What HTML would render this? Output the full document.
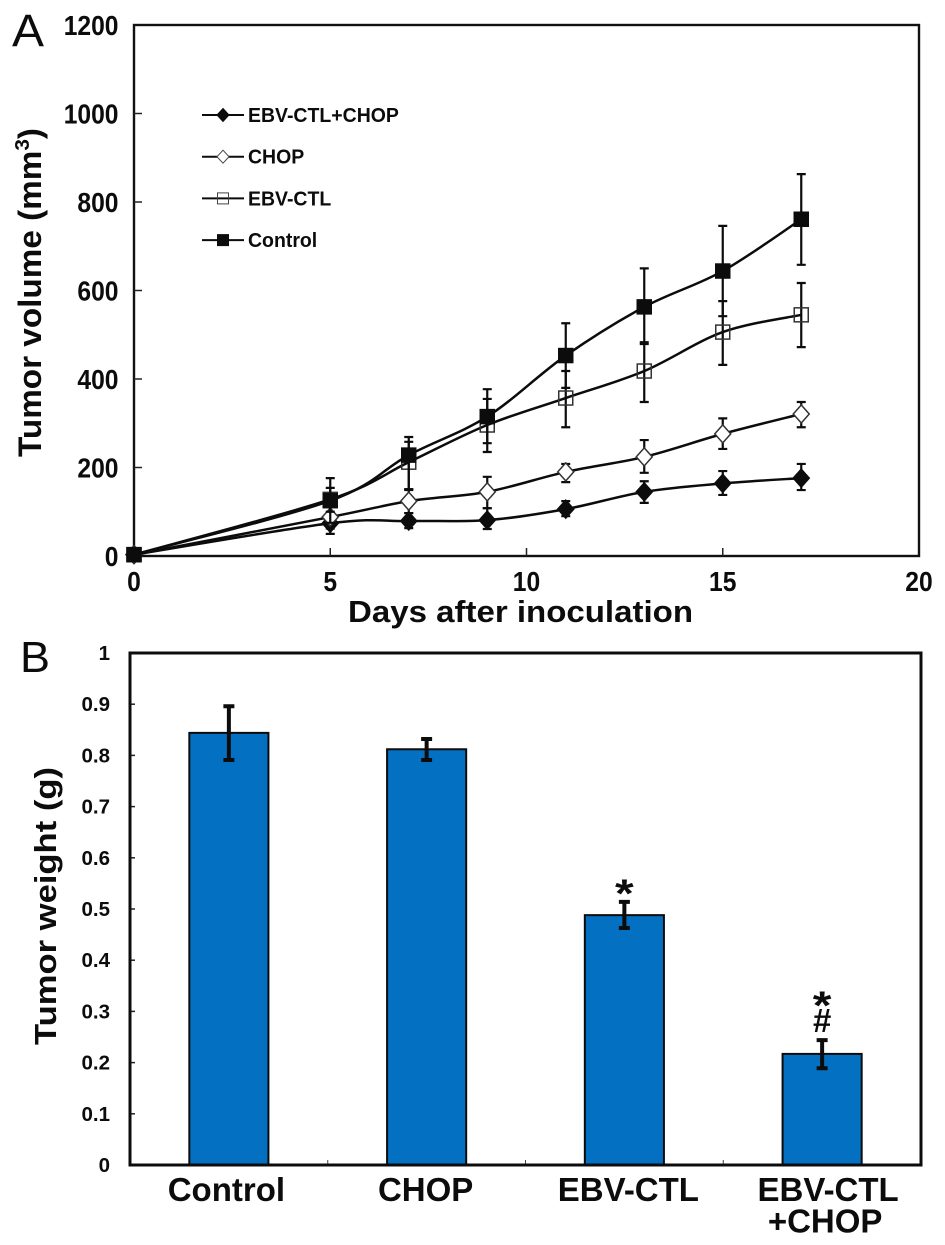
<!DOCTYPE html>
<html lang="en">
<head>
<meta charset="utf-8">
<title>Tumor volume and tumor weight</title>
<style>
html,body{margin:0;padding:0;background:#fff;width:945px;height:1245px;overflow:hidden}
svg{display:block;font-family:"Liberation Sans",sans-serif}
text{fill:#0c0c0c}
.b{font-weight:bold}
</style>
</head>
<body>
<svg id="fig" width="945" height="1245" viewBox="0 0 945 1245">
  <rect width="945" height="1245" fill="#fff"/>
  <text x="12" y="46" font-size="45" textLength="32" lengthAdjust="spacingAndGlyphs">A</text>
  <text x="20" y="672" font-size="44" textLength="30" lengthAdjust="spacingAndGlyphs">B</text>
  <g id="panelA"></g>
  <g id="panelB"></g>
  <text class="b" transform="translate(41 457) rotate(-90)" font-size="32" textLength="329" lengthAdjust="spacingAndGlyphs">Tumor volume (mm<tspan font-size="20" dy="-12">3</tspan><tspan dy="12">)</tspan></text>
  <text class="b" x="348" y="622" font-size="31" textLength="345" lengthAdjust="spacingAndGlyphs">Days after inoculation</text>
  <text class="b" transform="translate(56 1045) rotate(-90)" font-size="31" textLength="278" lengthAdjust="spacingAndGlyphs">Tumor weight (g)</text>
</svg>
<script>
// ---- Panel A data ----
const days = [0, 5, 7, 9, 11, 13, 15, 17];
const xTickLabelsA = [0, 5, 10, 15, 20];
const yTickLabelsA = [0, 200, 400, 600, 800, 1000, 1200];
const seriesNames = ['EBV-CTL+CHOP', 'CHOP', 'EBV-CTL', 'Control'];
const comboMean = [3, 74, 79, 81, 106, 145, 164, 176];
const comboUpper = [5, 97, 97, 108, 124, 169, 192, 208];
const comboLower = [1, 50, 63, 61, 90, 120, 138, 149];
const chopMean = [3, 88, 124, 145, 190, 224, 276, 321];
const chopUpper = [5, 118, 151, 179, 208, 262, 311, 348];
const chopLower = [1, 62, 97, 108, 167, 188, 242, 291];
const ctlMean = [3, 128, 212, 296, 357, 418, 506, 545];
const ctlUpper = [5, 154, 258, 355, 418, 483, 576, 617];
const ctlLower = [1, 100, 149, 235, 291, 348, 432, 472];
const controlMean = [3, 125, 228, 315, 453, 563, 644, 761];
const controlUpper = [5, 176, 269, 377, 526, 650, 746, 863];
const controlLower = [1, 75, 151, 255, 380, 479, 542, 658];

// ---- Panel B data ----
const categories = ['Control', 'CHOP', 'EBV-CTL', 'EBV-CTL +CHOP'];
const weightMean = [0.844, 0.812, 0.488, 0.217];
const weightUpper = [0.896, 0.832, 0.514, 0.244];
const weightLower = [0.791, 0.791, 0.463, 0.189];
const yTickLabelsB = ['0', '0.1', '0.2', '0.3', '0.4', '0.5', '0.6', '0.7', '0.8', '0.9', '1'];
const significance = ['', '', '*', '*#'];

const NS = 'http://www.w3.org/2000/svg';
const INK = '#0c0c0c';
function mk(parent, tag, attrs, txt) {
  const el = document.createElementNS(NS, tag);
  for (const k in attrs) el.setAttribute(k, attrs[k]);
  if (txt !== undefined) el.textContent = txt;
  parent.appendChild(el);
  return el;
}

// ---- Panel A scales ----
const A = {l: 134, r: 919, t: 25, b: 556};
const xA = d => A.l + d / 20 * (A.r - A.l);
const yA = v => A.b - v / 1200 * (A.b - A.t);
const gA = document.getElementById('panelA');

function narrowText(parent, x, y, size, sx, anchor, txt) {
  return mk(parent, 'text', {
    transform: 'translate(' + x + ' ' + y + ') scale(' + sx + ' 1)',
    'font-size': size, 'font-weight': 'bold', 'text-anchor': anchor
  }, txt);
}

function smoothPath(pts) {
  let d = 'M' + pts[0][0] + ' ' + pts[0][1];
  for (let i = 0; i < pts.length - 1; i++) {
    const p0 = pts[Math.max(i - 1, 0)], p1 = pts[i], p2 = pts[i + 1], p3 = pts[Math.min(i + 2, pts.length - 1)];
    const t = 1 / 6;
    d += ' C' + (p1[0] + (p2[0] - p0[0]) * t) + ' ' + (p1[1] + (p2[1] - p0[1]) * t) + ' ' +
      (p2[0] - (p3[0] - p1[0]) * t) + ' ' + (p2[1] - (p3[1] - p1[1]) * t) + ' ' + p2[0] + ' ' + p2[1];
  }
  return d;
}

function marker(parent, kind, x, y) {
  let el;
  if (kind === 'filled-diamond' || kind === 'open-diamond') {
    const w = 8, h = 9;
    el = mk(parent, 'polygon', {
      points: x + ',' + (y - h) + ' ' + (x + w) + ',' + y + ' ' + x + ',' + (y + h) + ' ' + (x - w) + ',' + y,
      fill: kind === 'filled-diamond' ? INK : '#fff', stroke: kind === 'filled-diamond' ? INK : '#333', 'stroke-width': 1.5
    });
  } else {
    const s = 7;
    el = mk(parent, 'rect', {
      x: x - s, y: y - s, width: 2 * s, height: 2 * s,
      fill: kind === 'filled-square' ? INK : 'none', stroke: kind === 'filled-square' ? INK : '#333', 'stroke-width': 1.5
    });
  }
  return el;
}

const frameA = mk(gA, 'rect', {x: A.l, y: A.t, width: A.r - A.l, height: A.b - A.t, fill: 'none', stroke: '#111', 'stroke-width': 2.4});



yTickLabelsA.forEach(v => {
  if (v > 0 && v < 1200) {
    const tk = mk(gA, 'line', {x1: A.l, x2: A.l + 8, y1: yA(v), y2: yA(v), stroke: '#222', 'stroke-width': 1.5});
    
    
  }
  const lb = narrowText(gA, 118.5, yA(v) + 10, 28, 0.88, 'end', String(v));
  
  
});
xTickLabelsA.forEach(v => {
  if (v > 0 && v < 20) {
    const tk = mk(gA, 'line', {x1: xA(v), x2: xA(v), y1: A.b, y2: A.b - 8, stroke: '#222', 'stroke-width': 1.5});
    
    
  }
  const lb = narrowText(gA, xA(v), 591, 28, 0.88, 'middle', String(v));
  
  
});

const seriesList = [
  {key: 'combo', kind: 'filled-diamond', mean: comboMean, up: comboUpper, lo: comboLower},
  {key: 'chop', kind: 'open-diamond', mean: chopMean, up: chopUpper, lo: chopLower},
  {key: 'ctl', kind: 'open-square', mean: ctlMean, up: ctlUpper, lo: ctlLower},
  {key: 'control', kind: 'filled-square', mean: controlMean, up: controlUpper, lo: controlLower}
];

seriesList.forEach(s => {
  const g = mk(gA, 'g', {});
  
  
  days.forEach((d, i) => {
    const x = xA(d);
    const eb = mk(g, 'path', {
      d: 'M' + x + ' ' + yA(s.up[i]) + 'V' + yA(s.lo[i]) +
         'M' + (x - 4.5) + ' ' + yA(s.up[i]) + 'H' + (x + 4.5) +
         'M' + (x - 4.5) + ' ' + yA(s.lo[i]) + 'H' + (x + 4.5),
      fill: 'none', stroke: INK, 'stroke-width': 2.2
    });
    
    
  });
  const line = mk(g, 'path', {
    d: smoothPath(days.map((d, i) => [xA(d), yA(s.mean[i])])),
    fill: 'none', stroke: INK, 'stroke-width': 2.5
  });
  
  
  days.forEach((d, i) => {
    const m = marker(g, s.kind, xA(d), yA(s.mean[i]));
    
    
  });
});

// ---- Legend ----
const legend = mk(gA, 'g', {});


seriesList.forEach((s, i) => {
  const y = 115 + i * 41.7;
  const ln = mk(legend, 'line', {x1: 202, x2: 244, y1: y, y2: y, stroke: INK, 'stroke-width': 2});
  
  
  const mkr = s.kind.indexOf('diamond') >= 0
    ? mk(legend, 'polygon', {
        points: '223,' + (y - 6.5) + ' 229,' + y + ' 223,' + (y + 6.5) + ' 217,' + y,
        fill: s.kind === 'filled-diamond' ? INK : '#fff', stroke: s.kind === 'filled-diamond' ? INK : '#444', 'stroke-width': 1
      })
    : mk(legend, 'rect', {
        x: 217.5, y: y - 5.5, width: 11, height: 11,
        fill: s.kind === 'filled-square' ? INK : 'none', stroke: s.kind === 'filled-square' ? INK : '#444', 'stroke-width': 1
      });
  
  
  const t = narrowText(legend, 248, y + 7, 20.5, 0.95, 'start', seriesNames[i]);
  
  
});

// ---- Panel B scales ----
const B = {l: 130, r: 921, t: 653, b: 1165};
const bandB = (B.r - B.l) / categories.length;
const xB = i => B.l + bandB * (i + 0.5);
const yB = v => B.b - v * (B.b - B.t);
const barW = bandB * 0.4;
const gB = document.getElementById('panelB');

yTickLabelsB.forEach(t => {
  const v = parseFloat(t);
  if (v > 0 && v < 1) {
    const tk = mk(gB, 'line', {x1: B.l, x2: B.l + 5, y1: yB(v), y2: yB(v), stroke: '#222', 'stroke-width': 1.5});
    
    
  }
  const lb = mk(gB, 'text', {x: 110, y: yB(v) + 7, 'font-size': 20.5, 'font-weight': 'bold', 'text-anchor': 'end'}, t);
  
  
});
for (let i = 1; i < categories.length; i++) {
  const tk = mk(gB, 'line', {x1: B.l + bandB * i, x2: B.l + bandB * i, y1: B.b, y2: B.b - 5, stroke: '#444', 'stroke-width': 1});
  
  
}

categories.forEach((c, i) => {
  const bar = mk(gB, 'rect', {
    x: xB(i) - barW / 2, y: yB(weightMean[i]), width: barW, height: B.b - yB(weightMean[i]),
    fill: '#0470c2', stroke: '#0c0c0c', 'stroke-width': 2
  });
  
  
  const x = xB(i);
  const eb = mk(gB, 'path', {
    d: 'M' + x + ' ' + yB(weightUpper[i]) + 'V' + yB(weightLower[i]) +
       'M' + (x - 5.5) + ' ' + yB(weightUpper[i]) + 'H' + (x + 5.5) +
       'M' + (x - 5.5) + ' ' + yB(weightLower[i]) + 'H' + (x + 5.5),
    fill: 'none', stroke: INK, 'stroke-width': 4
  });
  
  
  const parts = c.split(' ');
  parts.forEach((p, j) => {
    const lb = mk(gB, 'text', {x: x + (i === 0 ? -2.5 : i === 1 ? -1 : i === 2 ? 4 : (j === 0 ? 6 : 3)), y: 1201 + j * 31.5, 'font-size': 33, 'font-weight': 'bold', 'text-anchor': 'middle'}, p);
    
    
  });
  const sig = significance[i];
  if (sig.indexOf('*') >= 0) {
    const st = narrowText(gB, x, yB(weightUpper[i]) + (sig.length > 1 ? -21 : 5), 40, 1.2, 'middle', '*');
    
    
  }
  if (sig.indexOf('#') >= 0) {
    const hs = mk(gB, 'text', {x: x, y: yB(weightUpper[i]) - 8, 'font-size': 33, 'font-weight': 'bold', 'text-anchor': 'middle'}, '#');
    
    
  }
});

const frameB = mk(gB, 'rect', {x: B.l, y: B.t, width: B.r - B.l, height: B.b - B.t, fill: 'none', stroke: '#0c0c0c', 'stroke-width': 3});


</script>
</body>
</html>
